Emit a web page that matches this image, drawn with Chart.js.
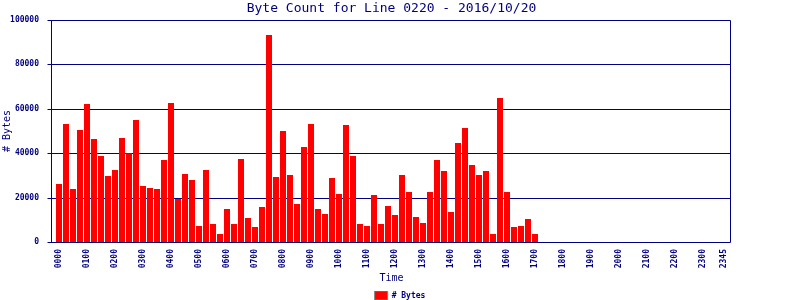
<!DOCTYPE html>
<html>
<head>
<meta charset="utf-8">
<script src="https://cdn.jsdelivr.net/npm/chart.js@4/dist/chart.umd.min.js"></script>
<style>
  body { margin: 0; background: #ffffff; }
</style>
</head>
<body>
<canvas id="graphCanvas" width="800" height="300"></canvas>
<script>
var times = [
  "0000","0015","0030","0045","0100","0115","0130","0145","0200","0215","0230","0245",
  "0300","0315","0330","0345","0400","0415","0430","0445","0500","0515","0530","0545",
  "0600","0615","0630","0645","0700","0715","0730","0745","0800","0815","0830","0845",
  "0900","0915","0930","0945","1000","1015","1030","1045","1100","1115","1130","1145",
  "1200","1215","1230","1245","1300","1315","1330","1345","1400","1415","1430","1445",
  "1500","1515","1530","1545","1600","1615","1630","1645","1700","1715","1730","1745",
  "1800","1815","1830","1845","1900","1915","1930","1945","2000","2015","2030","2045",
  "2100","2115","2130","2145","2200","2215","2230","2245","2300","2315","2330","2345"
];

var bytes = [
  26100, 53200, 23900, 50500, 62200, 46400, 38700, 29700, 32400, 46800, 40000, 55000,
  25200, 24300, 23900, 36900, 62600, 19400, 30600, 27900, 7200, 32400, 8100, 3600,
  14900, 8100, 37400, 10800, 6800, 15800, 93200, 29300, 50000, 30200, 17100, 42800,
  53200, 14900, 12600, 28800, 21600, 52700, 38700, 8100, 7200, 21200, 8100, 16200,
  12200, 30200, 22500, 11300, 8600, 22500, 36900, 32000, 13500, 44600, 51400, 34700,
  30200, 32000, 3600, 64900, 22500, 6800, 7200, 10400, 3600, 0, 0, 0,
  0, 0, 0, 0, 0, 0, 0, 0, 0, 0, 0, 0,
  0, 0, 0, 0, 0, 0, 0, 0, 0, 0, 0, 0
];

var yTicks = [0, 20000, 40000, 60000, 80000, 100000];

var navy = '#000080';
var mono = 'DejaVu Sans Mono';

// frame + horizontal grid, a bit wider than the bar area like the original
var framePlugin = {
  id: 'frame',
  beforeDatasetsDraw: function (chart) {
    var ctx = chart.ctx;
    var area = chart.chartArea;
    var y = chart.scales.y;
    var L = Math.round(area.left - 4.5) + 0.5;
    var R = Math.round(area.right + 2.5) + 0.5;
    var T = Math.round(y.getPixelForValue(yTicks[yTicks.length - 1])) + 0.5;
    var B = Math.round(y.getPixelForValue(0)) + 0.5;
    ctx.save();
    ctx.strokeStyle = navy;
    ctx.lineWidth = 1;
    ctx.beginPath();
    for (var i = 0; i < yTicks.length; i++) {
      var py = Math.round(y.getPixelForValue(yTicks[i])) + 0.5;
      ctx.moveTo(L - 4, py);
      ctx.lineTo(R, py);
    }
    ctx.moveTo(L, T);
    ctx.lineTo(L, B);
    ctx.moveTo(R, T);
    ctx.lineTo(R, B);
    ctx.stroke();
    ctx.restore();
  }
};

var chartdata = {
  labels: times,
  datasets: [
    {
      label: '# Bytes',
      backgroundColor: '#ff0000',
      borderWidth: 0,
      barPercentage: 0.86,
      categoryPercentage: 1.0,
      data: bytes
    }
  ]
};

var barGraph = new Chart(document.getElementById('graphCanvas'), {
  type: 'bar',
  data: chartdata,
  plugins: [framePlugin],
  options: {
    responsive: false,
    animation: false,
    layout: { padding: 0 },
    plugins: {
      tooltip: { enabled: false },
      title: {
        display: true,
        fullSize: false,
        text: 'Byte Count for Line 0220 - 2016/10/20',
        color: navy,
        font: { family: mono, size: 13, weight: 'normal', lineHeight: 1 },
        padding: { top: 2, bottom: 5 }
      },
      legend: {
        display: true,
        position: 'bottom',
        maxHeight: 9,
        labels: {
          boxWidth: 13,
          boxHeight: 9,
          padding: 0,
          color: navy,
          font: { family: mono, size: 8, weight: 'bold' },
          generateLabels: function (chart) {
            var items = Chart.defaults.plugins.legend.labels.generateLabels(chart);
            items.forEach(function (it) {
              it.fillStyle = '#ff0000';
              it.strokeStyle = '#808080';
              it.lineWidth = 1;
            });
            return items;
          }
        }
      }
    },
    scales: {
      x: {
        grid: { display: false },
        border: { display: false },
        afterFit: function (scale) { scale.height = 49; },
        ticks: {
          autoSkip: false,
          minRotation: 90,
          maxRotation: 90,
          padding: -1,
          color: navy,
          font: { family: mono, size: 8, weight: 'bold' },
          callback: function (value, index) {
            if (index % 4 === 0 || index === times.length - 1) {
              return times[index];
            }
            return '';
          }
        },
        title: {
          display: true,
          text: 'Time',
          color: navy,
          font: { family: mono, size: 10, lineHeight: 1.2 },
          padding: { top: 0, bottom: 7 }
        }
      },
      y: {
        min: 0,
        max: 100000,
        grid: { display: false },
        border: { display: false },
        afterFit: function (scale) { scale.width = 55.5; },
        afterBuildTicks: function (scale) {
          scale.ticks = yTicks.map(function (v) { return { value: v }; });
        },
        ticks: {
          padding: 8.5,
          color: navy,
          font: { family: mono, size: 8, weight: 'bold' },
          callback: function (value) { return String(value); }
        },
        title: {
          display: true,
          text: '# Bytes',
          color: navy,
          font: { family: mono, size: 10, lineHeight: 1.2 },
          padding: { top: 1.5, bottom: 0 }
        }
      },
      yRight: {
        position: 'right',
        display: true,
        grid: { display: false },
        border: { display: false },
        ticks: { display: false },
        afterFit: function (scale) { scale.width = 72.5; }
      }
    }
  }
});
</script>
</body>
</html>
